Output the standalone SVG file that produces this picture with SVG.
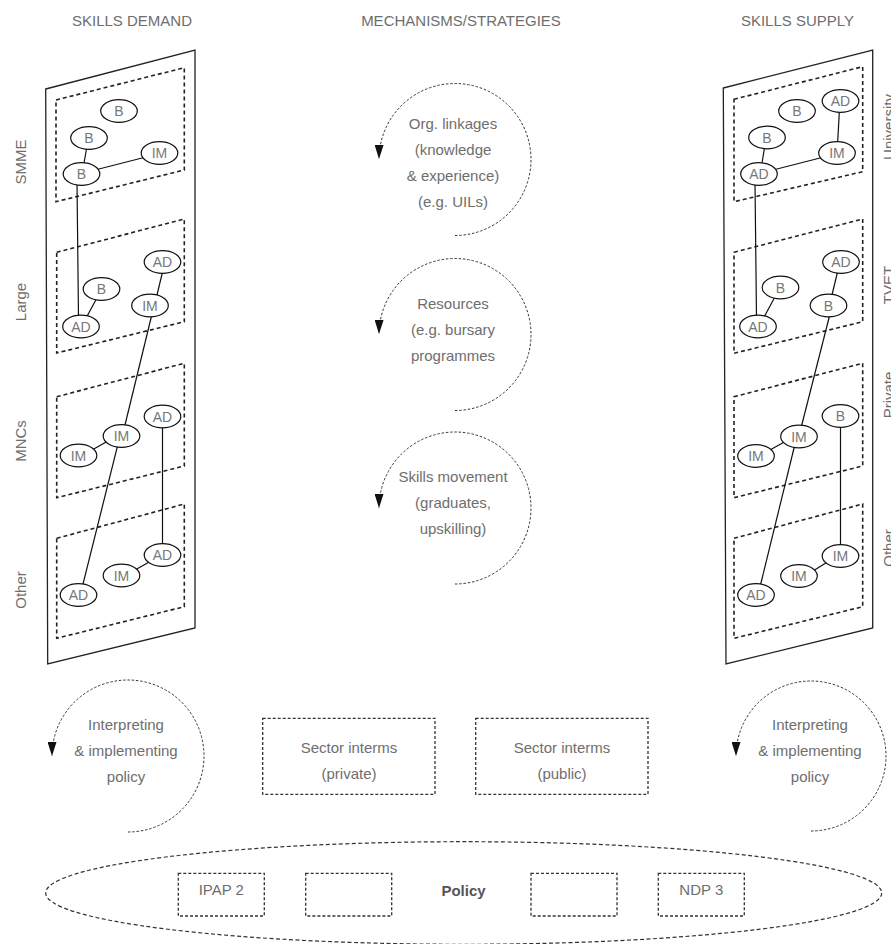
<svg xmlns="http://www.w3.org/2000/svg" width="891" height="944" viewBox="0 0 891 944">
<style>
text{font-family:"Liberation Sans",Arial,sans-serif;font-size:15px;fill:#6e6e6e;text-anchor:middle}
.n{font-size:14px;fill:#777}
.pol{font-weight:bold;fill:#555}
.node ellipse{fill:#fff;stroke:#111;stroke-width:1.2}
#connectors line{stroke:#111;stroke-width:1.2}
.panel{fill:#fff;stroke:#222;stroke-width:1.3}
.grp{fill:none;stroke:#222;stroke-width:1.6;stroke-dasharray:4 3}
.loop{fill:none;stroke:#333;stroke-width:1;stroke-dasharray:2.5 1.8}
.box{fill:none;stroke:#333;stroke-width:1.3;stroke-dasharray:3 2}
.ell{fill:none;stroke:#333;stroke-width:1.2;stroke-dasharray:4 2.5}
</style>
<defs>
<marker id="ah" markerUnits="userSpaceOnUse" markerWidth="14" markerHeight="9" viewBox="0 0 14 9" refX="14" refY="4.5" orient="auto">
<path d="M0,0 L14,4.5 L0,9 Z" fill="#111"/>
</marker>
</defs>

<!-- headers -->
<text x="132" y="26">SKILLS DEMAND</text>
<text x="461" y="26">MECHANISMS/STRATEGIES</text>
<text x="797.5" y="26">SKILLS SUPPLY</text>

<!-- side labels -->
<text transform="translate(26,162) rotate(-90)">SMME</text>
<text transform="translate(26,302) rotate(-90)">Large</text>
<text transform="translate(26,441) rotate(-90)">MNCs</text>
<text transform="translate(26,590) rotate(-90)">Other</text>
<text transform="translate(894,127) rotate(-90)">University</text>
<text transform="translate(894,285) rotate(-90)">TVET</text>
<text transform="translate(894,395) rotate(-90)">Private</text>
<text transform="translate(894,548) rotate(-90)">Other</text>

<!-- panels -->
<g id="demand-panel">
<path class="panel" d="M45.7,89 L195,50 L195,628 L47.7,664 Z"/>
<path class="grp" d="M56,100 L184.3,67.7 L184.3,170 L56,201.7 Z"/>
<path class="grp" d="M56.7,252.3 L184.3,219 L184.3,321.7 L56.7,353 Z"/>
<path class="grp" d="M56.7,396.7 L184.3,363.3 L184.3,466 L56.7,497.7 Z"/>
<path class="grp" d="M56.7,538.3 L184.3,504 L184.3,606.7 L56.7,638.3 Z"/>
</g>
<g id="supply-panel">
<path class="panel" d="M723.3,88 L872.7,50 L872.7,628 L726,664 Z"/>
<path class="grp" d="M734,99.3 L862.7,66.7 L862.7,171.7 L734,201.7 Z"/>
<path class="grp" d="M734,252.3 L862.7,219 L862.7,321.7 L734,353.3 Z"/>
<path class="grp" d="M734,396.7 L862.7,363.3 L862.7,466 L734,497.7 Z"/>
<path class="grp" d="M734,538.3 L862.7,504 L862.7,606.7 L734,638.3 Z"/>
</g>

<!-- connectors -->
<g id="connectors">
<line x1="87" y1="146" x2="83.5" y2="166"/>
<line x1="95" y1="170" x2="146" y2="157"/>
<line x1="77" y1="182" x2="78.5" y2="318"/>
<line x1="85" y1="320" x2="98" y2="296"/>
<line x1="163" y1="270" x2="156.5" y2="297"/>
<line x1="152" y1="314" x2="124.5" y2="427"/>
<line x1="118" y1="444" x2="82.5" y2="586"/>
<line x1="92" y1="450" x2="108" y2="441"/>
<line x1="162.5" y1="425" x2="162.5" y2="547"/>
<line x1="135" y1="570" x2="151" y2="561"/>

<line x1="839.5" y1="109" x2="837.5" y2="145"/>
<line x1="765" y1="145" x2="761.5" y2="166"/>
<line x1="773" y1="170" x2="824" y2="157"/>
<line x1="755" y1="182" x2="756.5" y2="318"/>
<line x1="763" y1="319" x2="776" y2="295"/>
<line x1="838" y1="270" x2="831.5" y2="297"/>
<line x1="830" y1="314" x2="801" y2="428"/>
<line x1="795" y1="444" x2="760" y2="587"/>
<line x1="770" y1="450" x2="786" y2="441"/>
<line x1="840.5" y1="424" x2="840.5" y2="548"/>
<line x1="813" y1="571" x2="829" y2="561"/>
</g>

<!-- demand nodes -->
<g id="d-smme-b1" class="node"><ellipse cx="119" cy="111" rx="18.3" ry="11.3"/><text class="n" x="119" y="116">B</text></g>
<g id="d-smme-b2" class="node"><ellipse cx="89" cy="138" rx="18.3" ry="11.3"/><text class="n" x="89" y="143">B</text></g>
<g id="d-smme-b3" class="node"><ellipse cx="81.5" cy="174" rx="18.3" ry="11.3"/><text class="n" x="81.5" y="179">B</text></g>
<g id="d-smme-im" class="node"><ellipse cx="159.5" cy="153" rx="18.3" ry="11.3"/><text class="n" x="159.5" y="158">IM</text></g>
<g id="d-large-ad1" class="node"><ellipse cx="81" cy="326.5" rx="18.3" ry="11.3"/><text class="n" x="81" y="331.5">AD</text></g>
<g id="d-large-b" class="node"><ellipse cx="101.5" cy="289" rx="18.3" ry="11.3"/><text class="n" x="101.5" y="294">B</text></g>
<g id="d-large-ad2" class="node"><ellipse cx="162.5" cy="262" rx="18.3" ry="11.3"/><text class="n" x="162.5" y="267">AD</text></g>
<g id="d-large-im" class="node"><ellipse cx="150" cy="305.5" rx="18.3" ry="11.3"/><text class="n" x="150" y="310.5">IM</text></g>
<g id="d-mnc-im1" class="node"><ellipse cx="78.5" cy="455.5" rx="18.3" ry="11.3"/><text class="n" x="78.5" y="460.5">IM</text></g>
<g id="d-mnc-im2" class="node"><ellipse cx="121.5" cy="436" rx="18.3" ry="11.3"/><text class="n" x="121.5" y="441">IM</text></g>
<g id="d-mnc-ad" class="node"><ellipse cx="162.5" cy="416.5" rx="18.3" ry="11.3"/><text class="n" x="162.5" y="421.5">AD</text></g>
<g id="d-oth-ad1" class="node"><ellipse cx="162.5" cy="555" rx="18.3" ry="11.3"/><text class="n" x="162.5" y="560">AD</text></g>
<g id="d-oth-im" class="node"><ellipse cx="121.5" cy="575.5" rx="18.3" ry="11.3"/><text class="n" x="121.5" y="580.5">IM</text></g>
<g id="d-oth-ad2" class="node"><ellipse cx="78.5" cy="595" rx="18.3" ry="11.3"/><text class="n" x="78.5" y="600">AD</text></g>

<!-- supply nodes -->
<g id="s-uni-b1" class="node"><ellipse cx="797" cy="111" rx="18.3" ry="11.3"/><text class="n" x="797" y="116">B</text></g>
<g id="s-uni-ad1" class="node"><ellipse cx="840.5" cy="101" rx="18.3" ry="11.3"/><text class="n" x="840.5" y="106">AD</text></g>
<g id="s-uni-b2" class="node"><ellipse cx="767" cy="137.5" rx="18.3" ry="11.3"/><text class="n" x="767" y="142.5">B</text></g>
<g id="s-uni-im" class="node"><ellipse cx="837" cy="153" rx="18.3" ry="11.3"/><text class="n" x="837" y="158">IM</text></g>
<g id="s-uni-ad2" class="node"><ellipse cx="759" cy="174" rx="18.3" ry="11.3"/><text class="n" x="759" y="179">AD</text></g>
<g id="s-tvet-b1" class="node"><ellipse cx="780.5" cy="287.5" rx="18.3" ry="11.3"/><text class="n" x="780.5" y="292.5">B</text></g>
<g id="s-tvet-ad1" class="node"><ellipse cx="841" cy="262" rx="18.3" ry="11.3"/><text class="n" x="841" y="267">AD</text></g>
<g id="s-tvet-b2" class="node"><ellipse cx="828.5" cy="305.5" rx="18.3" ry="11.3"/><text class="n" x="828.5" y="310.5">B</text></g>
<g id="s-tvet-ad2" class="node"><ellipse cx="758" cy="326.5" rx="18.3" ry="11.3"/><text class="n" x="758" y="331.5">AD</text></g>
<g id="s-prv-im1" class="node"><ellipse cx="799" cy="436.5" rx="18.3" ry="11.3"/><text class="n" x="799" y="441.5">IM</text></g>
<g id="s-prv-im2" class="node"><ellipse cx="756" cy="456" rx="18.3" ry="11.3"/><text class="n" x="756" y="461">IM</text></g>
<g id="s-prv-b" class="node"><ellipse cx="840.5" cy="416" rx="18.3" ry="11.3"/><text class="n" x="840.5" y="421">B</text></g>
<g id="s-oth-im1" class="node"><ellipse cx="840.5" cy="556" rx="18.3" ry="11.3"/><text class="n" x="840.5" y="561">IM</text></g>
<g id="s-oth-im2" class="node"><ellipse cx="799" cy="576" rx="18.3" ry="11.3"/><text class="n" x="799" y="581">IM</text></g>
<g id="s-oth-ad" class="node"><ellipse cx="756" cy="595" rx="18.3" ry="11.3"/><text class="n" x="756" y="600">AD</text></g>

<!-- mechanisms -->
<g id="mech-org">
<path class="loop" d="M455,235.5 A76,76 0 1 0 379,159" marker-end="url(#ah)"/>
<text x="453" y="129">Org. linkages</text>
<text x="453" y="155">(knowledge</text>
<text x="453" y="181">&amp; experience)</text>
<text x="453" y="207">(e.g. UILs)</text>
</g>
<g id="mech-res">
<path class="loop" d="M455,410.5 A76,76 0 1 0 379,334" marker-end="url(#ah)"/>
<text x="453" y="309">Resources</text>
<text x="453" y="335">(e.g. bursary</text>
<text x="453" y="361">programmes</text>
</g>
<g id="mech-skills">
<path class="loop" d="M455,584 A76,76 0 1 0 379,508" marker-end="url(#ah)"/>
<text x="453" y="482">Skills movement</text>
<text x="453" y="508">(graduates,</text>
<text x="453" y="534">upskilling)</text>
</g>

<g id="interp-demand">
<path class="loop" d="M128,832 A76,76 0 1 0 52,756" marker-end="url(#ah)"/>
<text x="126" y="730">Interpreting</text>
<text x="126" y="756">&amp; implementing</text>
<text x="126" y="782">policy</text>
</g>
<g id="interp-supply">
<path class="loop" d="M811,831 A75,75 0 1 0 736,756" marker-end="url(#ah)"/>
<text x="810" y="730">Interpreting</text>
<text x="810" y="756">&amp; implementing</text>
<text x="810" y="782">policy</text>
</g>

<g id="sector-private">
<rect class="box" x="262.7" y="718.3" width="172.3" height="76"/>
<text x="349" y="752.5">Sector interms</text>
<text x="349" y="778.5">(private)</text>
</g>
<g id="sector-public">
<rect class="box" x="475.7" y="718.3" width="172.3" height="76"/>
<text x="562" y="752.5">Sector interms</text>
<text x="562" y="778.5">(public)</text>
</g>

<g id="policy">
<ellipse class="ell" cx="463.7" cy="893" rx="418" ry="51.3"/>
<text class="pol" x="463.5" y="895.5">Policy</text>
</g>
<g id="policy-ipap"><rect class="box" x="178.3" y="873.3" width="86" height="42.7"/><text x="221.3" y="895">IPAP 2</text></g>
<g id="policy-blank1"><rect class="box" x="305.7" y="873.3" width="86" height="42.7"/></g>
<g id="policy-blank2"><rect class="box" x="531" y="873.3" width="86" height="42.7"/></g>
<g id="policy-ndp"><rect class="box" x="658.3" y="873.3" width="86" height="42.7"/><text x="701.3" y="895">NDP 3</text></g>
</svg>
